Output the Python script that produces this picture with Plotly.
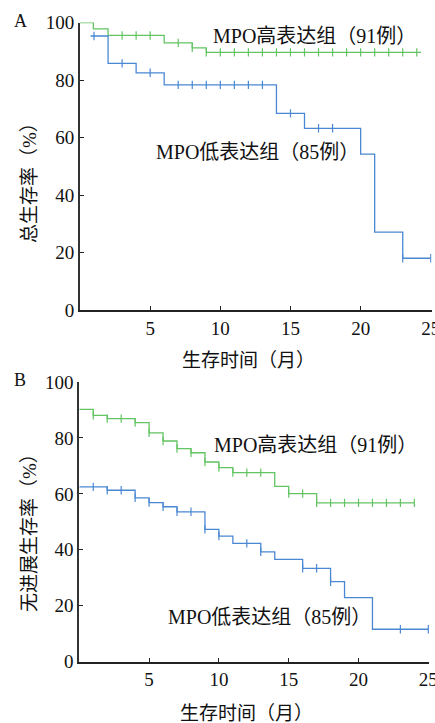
import plotly.graph_objects as go

# ---------------- data ----------------
# Panel A: overall survival
a_high_t = [0, 0.95, 2, 6, 8, 9, 24.3]
a_high_s = [100, 97.8, 95.5, 92.9, 91.2, 89.6, 89.6]
a_high_c = [3, 4, 5, 7, 8, 9, 10, 11, 12, 13, 14, 15, 16, 17, 18, 19, 20, 21, 22, 23, 24]

a_low_t = [0.75, 2, 4, 6, 14, 16, 20, 21, 23, 25]
a_low_s = [95.3, 85.8, 82.5, 78.3, 68.4, 63.2, 54.2, 27.1, 18.0, 18.0]
a_low_c = [1, 3, 5, 7, 8, 9, 10, 11, 12, 13, 15, 17, 18, 23, 25]

# Panel B: progression-free survival
b_high_t = [0, 1, 2, 4, 5, 6, 7, 8, 9, 10, 11, 14, 15, 17, 24]
b_high_s = [90.2, 88.1, 86.9, 85.5, 81.8, 78.9, 76.2, 74.7, 71.4, 69.4, 67.6, 62.7, 60.1, 56.8, 56.8]
b_high_c = [1, 2, 3, 4, 5, 6, 7, 8, 9, 10, 11, 12, 13, 15, 16, 17, 18, 19, 20, 21, 22, 23, 24]

b_low_t = [0, 2, 4, 5, 6, 7, 9, 10, 11, 13, 14, 16, 18, 19, 21, 25]
b_low_s = [62.5, 61.3, 58.6, 56.9, 55.4, 53.6, 47.3, 44.9, 42.3, 39.3, 36.6, 33.4, 28.6, 22.9, 11.6, 11.6]
b_low_c = [1, 2, 3, 4, 5, 6, 7, 8, 9, 10, 12, 13, 16, 17, 18, 23, 25]

x_ticks = [5, 10, 15, 20, 25]
y_ticks = [0, 20, 40, 60, 80, 100]

label_high = "MPO高表达组（91例）"
label_low = "MPO低表达组（85例）"
x_title = "生存时间（月）"
y_title_a = "总生存率（%）"
y_title_b = "无进展生存率（%）"

GREEN = "#62c462"
BLUE = "#4a88d4"
W, H = 435, 723
FONT = "Liberation Serif, 'Noto Sans CJK SC', serif"


def step_value(times, surv, t):
    v = surv[0]
    for ti, si in zip(times, surv):
        if ti <= t + 1e-9:
            v = si
    return v


fig = go.Figure()


def add_curve(times, surv, cens, color, xa, ya):
    fig.add_trace(go.Scatter(x=times, y=surv, mode="lines", line=dict(color=color, width=1.3, shape="hv"),
                             xaxis=xa, yaxis=ya, showlegend=False, hoverinfo="skip"))
    fig.add_trace(go.Scatter(x=cens, y=[step_value(times, surv, c) for c in cens], mode="markers",
                             marker=dict(symbol="line-ns", size=6, line=dict(color=color, width=1.2)),
                             xaxis=xa, yaxis=ya, showlegend=False, hoverinfo="skip"))


add_curve(a_high_t, a_high_s, a_high_c, GREEN, "x", "y")
add_curve(a_low_t, a_low_s, a_low_c, BLUE, "x", "y")
add_curve(b_high_t, b_high_s, b_high_c, GREEN, "x2", "y2")
add_curve(b_low_t, b_low_s, b_low_c, BLUE, "x2", "y2")


def px(x):
    return x / W


def py(y):
    return 1 - y / H


tickfont = dict(family=FONT, size=19, color="#111")
common_x = dict(range=[0, 25.05], tickvals=x_ticks, ticks="inside", ticklen=4, tickwidth=1.2,
                tickcolor="#222", showline=True, linecolor="#222", linewidth=1.5, showgrid=False,
                zeroline=False, tickfont=tickfont, fixedrange=True, ticklabeloverflow="allow",
                automargin=False)
common_y = dict(range=[0, 100], tickvals=y_ticks, ticks="inside", ticklen=4, tickwidth=1.2,
                tickcolor="#222", showline=True, linecolor="#333", linewidth=1.8, showgrid=False,
                zeroline=False, tickfont=tickfont, fixedrange=True, automargin=False)

fig.update_layout(
    template="none",
    width=W, height=H, margin=dict(l=0, r=0, t=0, b=0, pad=0), autosize=False,
    paper_bgcolor="white", plot_bgcolor="white",
    xaxis=dict(domain=[px(80), px(431.5)], anchor="y", **common_x),
    yaxis=dict(domain=[py(310), py(22.5)], anchor="x", **common_y),
    xaxis2=dict(domain=[px(79.3), px(429)], anchor="y2", **common_x),
    yaxis2=dict(domain=[py(661.7), py(382)], anchor="x2", **common_y),
)

annot_font = dict(family=FONT, size=20, color="#111")
title_font = dict(family=FONT, size=19, color="#111")
anns = [
    dict(x=px(211), y=py(36), text=label_high, xanchor="left", font=annot_font),
    dict(x=px(154), y=py(152), text=label_low, xanchor="left", font=annot_font),
    dict(x=px(212), y=py(445), text=label_high, xanchor="left", font=annot_font),
    dict(x=px(166), y=py(617), text=label_low, xanchor="left", font=annot_font),
    dict(x=px(248), y=py(360), text=x_title, xanchor="center", font=title_font),
    dict(x=px(247), y=py(713), text=x_title, xanchor="center", font=title_font),
    dict(x=px(29), y=py(178), text=y_title_a, textangle=-90, xanchor="center", font=title_font),
    dict(x=px(29), y=py(528), text=y_title_b, textangle=-90, xanchor="center", font=title_font),
    dict(x=px(20), y=py(21), text="A", xanchor="center", font=dict(family=FONT, size=18, color="#111")),
    dict(x=px(20), y=py(380), text="B", xanchor="center", font=dict(family=FONT, size=18, color="#111")),
]
for a in anns:
    a.update(xref="paper", yref="paper", showarrow=False, yanchor="middle")
fig.update_layout(annotations=anns)

fig.write_html("out.html", config={"displayModeBar": False},
               post_script="document.body.style.margin='0';document.body.style.overflow='hidden';")
